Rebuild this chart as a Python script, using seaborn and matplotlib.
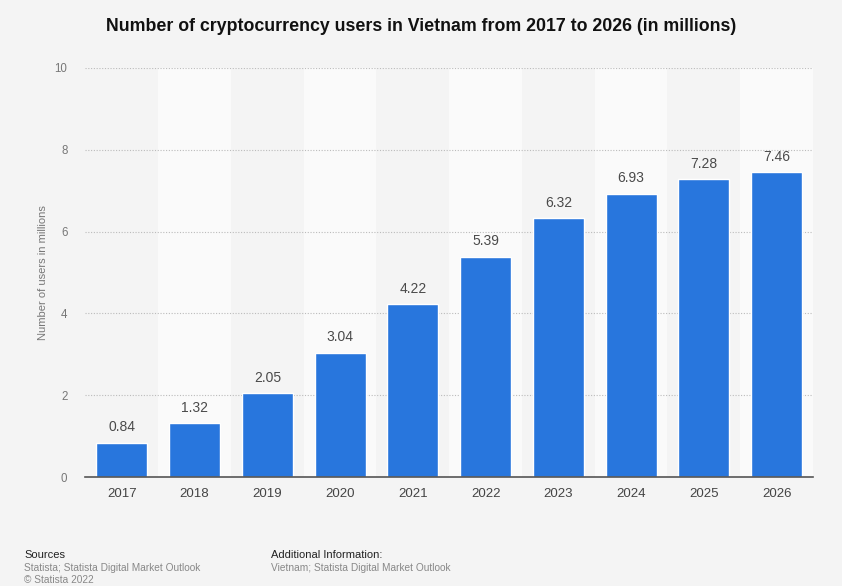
import matplotlib
matplotlib.use("Agg")
import matplotlib.pyplot as plt
import seaborn as sns
import pandas as pd

years = ["2017", "2018", "2019", "2020", "2021", "2022", "2023", "2024", "2025", "2026"]
users = [0.84, 1.32, 2.05, 3.04, 4.22, 5.39, 6.32, 6.93, 7.28, 7.46]
labels = ["0.84", "1.32", "2.05", "3.04", "4.22", "5.39", "6.32", "6.93", "7.28", "7.46"]
yticks = [0, 2, 4, 6, 8, 10]

df = pd.DataFrame({"year": years, "users": users})

sns.set_theme(style="white")
plt.rcParams["font.family"] = ["Liberation Sans", "DejaVu Sans"]

bg = "#f4f4f4"
fig = plt.figure(figsize=(8.42, 5.86), dpi=100, facecolor=bg)
ax = fig.add_axes([0.1015, 0.186, 0.864, 0.698])
ax.set_facecolor(bg)

for i in range(len(years)):
    if i % 2 == 1:
        ax.axvspan(i - 0.5, i + 0.5, color="#fafafa", zorder=0, lw=0)

sns.barplot(data=df, x="year", y="users", color="#2876dd", width=0.70,
            saturation=1, ax=ax, zorder=3)

for i, (v, t) in enumerate(zip(users, labels)):
    ax.text(i, v + 0.2, t, ha="center", va="bottom", fontsize=10, color="#4a4a4a", zorder=4)

ax.set_ylim(0, 10)
ax.set_xlim(-0.5, len(years) - 0.5)
ax.set_yticks(yticks)
ax.set_yticklabels([str(t) for t in yticks])
ax.yaxis.grid(True, linestyle=(0, (1, 1.5)), color="#bbbbbb", lw=0.8, zorder=1)
ax.set_axisbelow(False)
for s in ["top", "right", "left"]:
    ax.spines[s].set_visible(False)
ax.spines["bottom"].set_color("#555555")
ax.spines["bottom"].set_linewidth(1.2)
ax.spines["bottom"].set_zorder(5)
ax.tick_params(axis="y", length=0, labelsize=8.3, labelcolor="#777777", pad=13)
ax.tick_params(axis="x", length=0, labelsize=9.5, labelcolor="#444444", pad=8)
ax.set_xlabel("")
ax.set_ylabel("Number of users in millions", fontsize=8, color="#777777", labelpad=5)

fig.text(0.5, 0.955, "Number of cryptocurrency users in Vietnam from 2017 to 2026 (in millions)",
         ha="center", va="center", fontsize=12.8, fontweight="bold", color="#111111")

fig.text(0.029, 0.053, "Sources", fontsize=8, color="#222222", va="center")
fig.text(0.029, 0.031, "Statista; Statista Digital Market Outlook", fontsize=7.3, color="#888888", va="center")
fig.text(0.029, 0.011, "\u00a9 Statista 2022", fontsize=7.3, color="#888888", va="center")
fig.text(0.322, 0.053, "Additional Information:", fontsize=8, color="#222222", va="center")
fig.text(0.322, 0.031, "Vietnam; Statista Digital Market Outlook", fontsize=7.3, color="#888888", va="center")

fig.savefig("out.png", dpi=100, facecolor=bg)
